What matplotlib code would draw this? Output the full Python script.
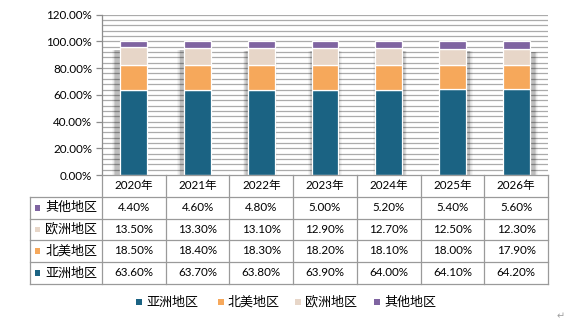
import matplotlib
matplotlib.use("Agg")
import matplotlib.pyplot as plt
from matplotlib.patches import Rectangle
from matplotlib.lines import Line2D
import numpy as np

plt.rcParams['font.family'] = ['Lato', 'Noto Sans CJK SC', 'DejaVu Sans']

# ---- data ----
years = ["2020年", "2021年", "2022年", "2023年", "2024年", "2025年", "2026年"]
asia = [63.6, 63.7, 63.8, 63.9, 64.0, 64.1, 64.2]
north_america = [18.5, 18.4, 18.3, 18.2, 18.1, 18.0, 17.9]
europe = [13.5, 13.3, 13.1, 12.9, 12.7, 12.5, 12.3]
others = [4.4, 4.6, 4.8, 5.0, 5.2, 5.4, 5.6]
series_names = ["亚洲地区", "北美地区", "欧洲地区", "其他地区"]
y_ticks = [0, 20, 40, 60, 80, 100, 120]

colors = ["#1B6383", "#F6A85B", "#E7D6C8", "#7F64A1"]
series = [asia, north_america, europe, others]

W, H = 569, 323
fig = plt.figure(figsize=(W / 100, H / 100), dpi=100)
fig.patch.set_facecolor("white")


def fx(px):
    return px / W


def fy(py):
    return 1 - py / H


ax_left, ax_right, ax_top, ax_bottom = 102, 548, 14.7, 175
ax = fig.add_axes([fx(ax_left), fy(ax_bottom), fx(ax_right - ax_left),
                   (ax_bottom - ax_top) / H])

n = len(years)
x = np.arange(n)
bar_w = 0.42

ax.set_xlim(-0.5, n - 0.5)
ax.set_ylim(0, 120)

# gridlines every 4 %
for g in np.arange(4, 121, 4):
    ax.axhline(g, color="#ABABAB", lw=0.9, zorder=0)

# soft shadow behind each bar
totals = np.sum(series, axis=0)
for i in range(n):
    shift = (i - (n - 1) / 2) * 0.026
    for k, a in zip([0.11, 0.085, 0.06, 0.04, 0.02],
                    [0.035, 0.045, 0.055, 0.065, 0.08]):
        ax.add_patch(Rectangle((x[i] - bar_w / 2 + shift - k / 2, 0),
                               bar_w + k, totals[i] - others[i] - 2.0,
                               facecolor="#000000", alpha=a, lw=0, zorder=1))

bottom = np.zeros(n)
for vals, c, name in zip(series, colors, series_names):
    ax.bar(x, vals, bar_w, bottom=bottom, color=c, edgecolor="white",
           linewidth=0.9, zorder=3, label=name)
    bottom += np.array(vals)

ax.set_yticks(y_ticks)
ax.set_yticklabels([f"{t:.2f}%" for t in y_ticks], fontsize=8.4,
                   color="#000000")
ax.tick_params(axis="y", direction="out", length=4, width=0.9,
               color="#8C8C8C", pad=3)
ax.set_xticks([])
for s in ["top", "right", "bottom"]:
    ax.spines[s].set_visible(False)
ax.spines["left"].set_color("#8C8C8C")
ax.spines["left"].set_linewidth(0.9)

# ---- data table ----
line_c = "#9A9A9A"
col_w = (ax_right - ax_left) / n
row_edges = [175, 197, 218.5, 240, 262, 284]
lab_left = 30


def hline(x0, x1, y):
    fig.add_artist(Line2D([fx(x0), fx(x1)], [fy(y), fy(y)], color=line_c,
                          lw=0.9, transform=fig.transFigure))


def vline(xp, y0, y1):
    fig.add_artist(Line2D([fx(xp), fx(xp)], [fy(y0), fy(y1)], color=line_c,
                          lw=0.9, transform=fig.transFigure))


hline(ax_left, ax_right, row_edges[0])
for y in row_edges[1:]:
    hline(lab_left, ax_right, y)
vline(lab_left, row_edges[1], row_edges[-1])
for j in range(n + 1):
    vline(ax_left + j * col_w, row_edges[0], row_edges[-1])

# header row
for j, yr in enumerate(years):
    fig.text(fx(ax_left + (j + 0.5) * col_w),
             fy((row_edges[0] + row_edges[1]) / 2), yr,
             ha="center", va="center", fontsize=8.4)

# rows: top to bottom is 其他, 欧洲, 北美, 亚洲
row_order = [3, 2, 1, 0]
for r, si in enumerate(row_order):
    yc = (row_edges[r + 1] + row_edges[r + 2]) / 2
    fig.add_artist(Rectangle((fx(34.5), fy(yc + 2.8)), fx(5.5), 5.5 / H,
                             facecolor=colors[si], lw=0,
                             transform=fig.transFigure))
    fig.text(fx(45), fy(yc), series_names[si], ha="left", va="center",
             fontsize=9.4, family=["Noto Sans CJK SC"])
    for j in range(n):
        fig.text(fx(ax_left + (j + 0.5) * col_w), fy(yc),
                 f"{series[si][j]:.2f}%", ha="center", va="center",
                 fontsize=8.4)

# ---- legend ----
leg_x = [136, 218, 295, 374]
leg_y = 302
for si in range(4):
    fig.add_artist(Rectangle((fx(leg_x[si]), fy(leg_y + 2.8)), fx(5.5),
                             5.5 / H, facecolor=colors[si], lw=0,
                             transform=fig.transFigure))
    fig.text(fx(leg_x[si] + 10), fy(leg_y), series_names[si], ha="left",
             va="center", fontsize=9.4, family=["Noto Sans CJK SC"])

fig.text(fx(561), fy(316), "↵", ha="center", va="center", fontsize=7,
         color="#A0A0A0", family=["DejaVu Sans"])

fig.savefig("out.png", dpi=100)
